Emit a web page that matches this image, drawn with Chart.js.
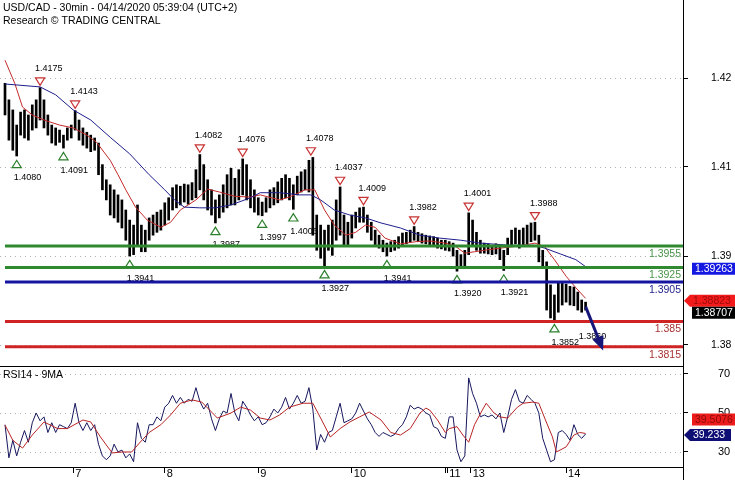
<!DOCTYPE html>
<html>
<head>
<meta charset="utf-8">
<script src="https://cdn.jsdelivr.net/npm/chart.js@4.4.1/dist/chart.umd.min.js"></script>
<style>
  html, body { margin: 0; padding: 0; background: #fff; }
  #wrap { position: relative; width: 735px; height: 480px; overflow: hidden; }
  #price { position: absolute; left: 0; top: 0; }
  #rsi { position: absolute; left: 0; top: 366px; }
</style>
</head>
<body>
<div id="wrap">
  <canvas id="price" width="735" height="366"></canvas>
  <canvas id="rsi" width="735" height="114"></canvas>
</div>
<script>
const FONT = '"Liberation Sans", Arial, Helvetica, sans-serif';

// x is counted in 30 minute slots, first bar = slot 0
const X_MIN = -2.57, X_MAX = 348;
const PRICE_MIN = 1.37883, PRICE_MAX = 1.42967;
const RSI_MIN = 22.3, RSI_MAX = 74.1;

const titleLines = ['USD/CAD - 30min - 04/14/2020 05:39:04 (UTC+2)', 'Research \u00A9 TRADING CENTRAL'];
const rsiTitle = 'RSI14 - 9MA';

// day ticks (slot) and their labels
const dayTickVals = [35, 82, 130, 178, 226, 227, 239, 288];
const dayTickLabels = ['7', '8', '9', '10', '', '11', '13', '14'];

// price axis ticks as printed on the original
const priceTickVals = [1.4188, 1.4065, 1.3941, 1.3818];
const priceTickLabels = ['1.42', '1.41', '1.39', '1.38'];
const rsiTickVals = [70, 50, 30];

// hourly bars, bar k sits on slot 2k
const barHigh = [
  1.4181, 1.4158, 1.4144, 1.4123, 1.4141, 1.4144, 1.4137, 1.4151, 1.4158, 1.4175,
  1.4158, 1.4137, 1.4123, 1.4119, 1.4116, 1.4109, 1.4119, 1.4123, 1.4143, 1.4130,
  1.4119, 1.4113, 1.4109, 1.4105, 1.4098, 1.4068, 1.4047, 1.4040, 1.4033, 1.4026,
  1.4019, 1.4005, 1.3991, 1.3984, 1.4012, 1.3984, 1.3977, 1.3994, 1.3998, 1.4002,
  1.4005, 1.4015, 1.4022, 1.4036, 1.4040, 1.4038, 1.4041, 1.4040, 1.4043, 1.4061,
  1.4082, 1.4068, 1.4047, 1.4033, 1.4019, 1.4026, 1.4040, 1.4054, 1.4063, 1.4049,
  1.4061, 1.4076, 1.4068, 1.4047, 1.4033, 1.4022, 1.4016, 1.4022, 1.4033, 1.4036,
  1.4044, 1.4049, 1.4054, 1.4049, 1.4040, 1.4052, 1.4058, 1.4061, 1.4074, 1.4078,
  1.3998, 1.3984, 1.3977, 1.3984, 1.3991, 1.4019, 1.4037, 1.3998, 1.3988, 1.3998,
  1.4002, 1.4008, 1.4009, 1.3998, 1.3988, 1.3977, 1.3970, 1.3963, 1.3959, 1.3961,
  1.3963, 1.3968, 1.3973, 1.3974, 1.3977, 1.3982, 1.3974, 1.3972, 1.3970, 1.3969,
  1.3968, 1.3966, 1.3963, 1.3963, 1.3961, 1.3959, 1.3949, 1.3943, 1.3949, 1.4001,
  1.3991, 1.3974, 1.3963, 1.3959, 1.3958, 1.3956, 1.3958, 1.3955, 1.3949, 1.3966,
  1.3977, 1.3980, 1.3977, 1.3980, 1.3984, 1.3987, 1.3988, 1.3970, 1.3949, 1.3933,
  1.3901, 1.3887, 1.3904, 1.3904, 1.3902, 1.3899, 1.3898, 1.3891, 1.3880, 1.3877
];
const barLow = [
  1.4137, 1.4102, 1.4088, 1.4080, 1.4109, 1.4105, 1.4102, 1.4116, 1.4119, 1.4130,
  1.4119, 1.4109, 1.4098, 1.4095, 1.4099, 1.4091, 1.4102, 1.4105, 1.4116, 1.4102,
  1.4095, 1.4091, 1.4086, 1.4088, 1.4054, 1.4033, 1.4019, 1.3998, 1.3994, 1.3988,
  1.3980, 1.3963, 1.3941, 1.3943, 1.3956, 1.3947, 1.3947, 1.3963, 1.3970, 1.3974,
  1.3977, 1.3984, 1.3991, 1.4005, 1.4008, 1.4012, 1.4016, 1.4013, 1.4019, 1.4022,
  1.4033, 1.4019, 1.4005, 1.3998, 1.3987, 1.3994, 1.4002, 1.4008, 1.4012, 1.4012,
  1.4019, 1.4026, 1.4019, 1.4008, 1.4002, 1.3998, 1.3997, 1.4002, 1.4008, 1.4012,
  1.4015, 1.4019, 1.4022, 1.4019, 1.4006, 1.4026, 1.4030, 1.4033, 1.4030, 1.3970,
  1.3949, 1.3938, 1.3927, 1.3949, 1.3942, 1.3963, 1.3970, 1.3956, 1.3956, 1.3966,
  1.3980, 1.3988, 1.3988, 1.3974, 1.3963, 1.3956, 1.3952, 1.3947, 1.3941, 1.3947,
  1.3949, 1.3952, 1.3955, 1.3958, 1.3961, 1.3963, 1.3961, 1.3959, 1.3958, 1.3956,
  1.3954, 1.3952, 1.3951, 1.3949, 1.3948, 1.3941, 1.3920, 1.3924, 1.3927, 1.3943,
  1.3956, 1.3949, 1.3945, 1.3945, 1.3944, 1.3943, 1.3944, 1.3936, 1.3921, 1.3943,
  1.3955, 1.3958, 1.3952, 1.3955, 1.3958, 1.3961, 1.3963, 1.3933, 1.3924, 1.3866,
  1.3855, 1.3852, 1.3863, 1.3873, 1.3877, 1.3873, 1.3872, 1.3866, 1.3863, 1.3866
];
const lastClose = 1.38707;

// moving averages (red = fast, blue = slow)
const maRedSlot = [0, 5, 9, 14, 20, 28, 35, 42, 47, 54, 58, 62, 67, 73, 80, 85, 90, 98, 104, 110,
  118, 126, 131, 141, 146, 154, 159, 164, 169, 175, 180, 185, 190, 195, 203, 211, 218, 226, 231, 236,
  241, 246, 254, 264, 272, 277, 282, 288, 293, 298];
const maRedVal = [1.4213, 1.4181, 1.4148, 1.4137, 1.4130, 1.4123, 1.4119, 1.4109, 1.4099, 1.4074,
  1.4054, 1.4033, 1.4009, 1.3991, 1.3981, 1.3988, 1.4005, 1.4019, 1.4034, 1.4030,
  1.4024, 1.4023, 1.4026, 1.4019, 1.4023, 1.4033, 1.4033, 1.4005, 1.3984, 1.3970,
  1.3974, 1.3984, 1.3981, 1.3966, 1.3958, 1.3961, 1.3962, 1.3959, 1.3955, 1.3945,
  1.3947, 1.3949, 1.3952, 1.3955, 1.3959, 1.3954, 1.3936, 1.3913, 1.3897, 1.38823];
const maBlueSlot = [0, 18, 26, 35, 44, 54, 64, 74, 82, 87, 92, 100, 108, 116, 126, 131, 141, 151, 157, 162,
  169, 177, 185, 193, 203, 213, 223, 234, 244, 259, 272, 277, 285, 293, 298];
const maBlueVal = [1.4180, 1.4176, 1.4165, 1.4144, 1.4130, 1.4106, 1.4083, 1.4054, 1.4033, 1.4019,
  1.4009, 1.4008, 1.4008, 1.4012, 1.4022, 1.4029, 1.4029, 1.4026, 1.4026, 1.4019,
  1.4005, 1.3998, 1.3994, 1.3987, 1.3980, 1.3970, 1.3966, 1.3963, 1.3959, 1.3956,
  1.3956, 1.3952, 1.3944, 1.3936, 1.39263];

// support / resistance
const levelVals = [1.3955, 1.3925, 1.3905, 1.385, 1.3815];
const levelColors = ['#2f8a2f', '#2f8a2f', '#1414a0', '#d02424', '#d02424'];
const levelTextColors = ['#4a944a', '#4a944a', '#24248c', '#a83232', '#a83232'];

// swing highs / lows
const hiSlot = [18, 36, 100, 122, 157, 172, 184, 210, 238, 272];
const hiVal = [1.4175, 1.4143, 1.4082, 1.4076, 1.4078, 1.4037, 1.4009, 1.3982, 1.4001, 1.3988];
const loSlot = [6, 30, 64, 108, 132, 148, 164, 196, 232, 256, 282];
const loVal = [1.4080, 1.4091, 1.3941, 1.3987, 1.3997, 1.4006, 1.3927, 1.3941, 1.3920, 1.3921, 1.3852];
const lastLowSlot = 296, lastLowVal = 1.3860;

// forecast arrow
const fcSlot = [298, 307];
const fcVal = [1.38707, 1.3810];

// RSI, one value per hourly bar
const rsiVal = [
  44, 27, 36, 28, 35, 41, 35, 45, 50, 46, 48, 40, 45, 40, 44, 43, 42, 45, 55, 45,
  41, 45, 41, 44, 34, 28, 26, 28, 34, 30, 31, 27, 29, 25, 45, 37, 35, 44, 44, 48,
  46, 53, 55, 59, 55, 58, 55, 57, 56, 63, 56, 52, 55, 47, 41, 47, 51, 50, 60, 50,
  46, 56, 53, 49, 46, 48, 44, 45, 48, 52, 50, 53, 58, 52, 55, 59, 55, 56, 63, 52,
  31, 39, 35, 40, 41, 48, 55, 45, 46, 47, 50, 55, 51, 47, 44, 40, 38, 40, 39, 38,
  39, 42, 44, 48, 54, 52, 53, 52, 50, 49, 43, 42, 38, 37, 48, 48, 31, 25, 28, 68,
  60, 55, 48, 49, 48, 49, 47, 50, 40, 48, 57, 62, 56, 55, 59, 57, 55, 50, 37, 31,
  25, 26, 40, 41, 39, 36, 44, 39, 37, 39.233
];
const rsiMaSlot = [0, 4, 9, 14, 20, 27, 32, 40, 44, 49, 55, 60, 65, 69, 74, 80, 85, 90, 96, 101,
  106, 109, 116, 121, 126, 131, 136, 141, 146, 153, 158, 162, 167, 172, 177, 182, 187, 193, 198, 203,
  208, 213, 216, 218, 222, 226, 228, 232, 235, 238, 241, 245, 247, 251, 254, 258, 263, 266, 271, 274,
  277, 281, 283, 288, 292, 295, 298];
const rsiMaVal = [43.8, 36, 32, 38.7, 45.4, 42, 42, 46.4, 45.4, 37.7, 29.5, 30, 30, 34.6, 40, 44, 49, 55, 56.7, 55.6,
  50.5, 47.4, 50, 53, 51.5, 47.4, 46.4, 49, 53, 55, 55, 47.4, 37.7, 42, 45.4, 48, 50.5, 46.4, 40, 38.7,
  42, 50, 52.5, 51.5, 46.4, 40, 42, 43, 38.7, 35, 44, 51.5, 55, 50, 48, 47.4, 53, 55, 55.6, 55,
  47.4, 37.7, 30, 32.6, 38.7, 40, 39.5076];

function lineData(xs, ys) {
  return xs.map((x, i) => ({ x: x, y: ys[i] }));
}

function yAxisWidth(s) {
  s.width = 52;
  s.paddingTop = 0;
  s.paddingBottom = 0;
}

function dottedRows(ctx, a, scale, vals) {
  ctx.strokeStyle = '#b0b0b0';
  ctx.lineWidth = 1;
  ctx.setLineDash([1, 4]);
  vals.forEach(v => {
    const py = Math.round(scale.getPixelForValue(v)) + 0.5;
    ctx.beginPath();
    ctx.moveTo(a.left, py);
    ctx.lineTo(a.right, py);
    ctx.stroke();
  });
  ctx.setLineDash([]);
}

// value tag on the right axis, optional arrow tip on the left
function valueTag(ctx, text, yc, x0, x1, bg, fg, tip) {
  const h = 12;
  ctx.fillStyle = bg;
  ctx.beginPath();
  if (tip) {
    ctx.moveTo(tip, yc);
    ctx.lineTo(x0, yc - h / 2);
  } else {
    ctx.moveTo(x0, yc - h / 2);
  }
  ctx.lineTo(x1, yc - h / 2);
  ctx.lineTo(x1, yc + h / 2);
  ctx.lineTo(x0, yc + h / 2);
  ctx.closePath();
  ctx.fill();
  ctx.fillStyle = fg;
  ctx.font = '10.5px ' + FONT;
  ctx.textAlign = 'left';
  ctx.textBaseline = 'middle';
  ctx.fillText(text, x0 + 3, yc + 0.5);
}

const priceDecor = {
  id: 'priceDecor',
  beforeDatasetsDraw(chart) {
    const { ctx, chartArea: a, scales: { y } } = chart;
    ctx.save();
    dottedRows(ctx, a, y, priceTickVals);
    ctx.fillStyle = '#000';
    ctx.font = '10.5px ' + FONT;
    ctx.textAlign = 'left';
    ctx.textBaseline = 'alphabetic';
    ctx.fillText(titleLines[0], 3, 11);
    ctx.fillText(titleLines[1], 3, 24);
    ctx.restore();
  },
  afterDatasetsDraw(chart) {
    const { ctx, chartArea: a, scales: { x, y } } = chart;
    const px = v => x.getPixelForValue(v);
    const py = v => y.getPixelForValue(v);
    ctx.save();
    ctx.lineWidth = 1.2;
    ctx.font = '9px ' + FONT;
    ctx.textAlign = 'left';
    ctx.textBaseline = 'middle';

    // highs: red triangle pointing down, value above
    hiSlot.forEach((s, i) => {
      const cx = px(s), cy = py(hiVal[i]) - 6;
      ctx.beginPath();
      ctx.moveTo(cx - 4.6, cy - 3.7);
      ctx.lineTo(cx + 4.6, cy - 3.7);
      ctx.lineTo(cx, cy + 3.7);
      ctx.closePath();
      ctx.fillStyle = '#fff';
      ctx.fill();
      ctx.strokeStyle = '#c83232';
      ctx.stroke();
      ctx.fillStyle = '#000';
      ctx.fillText(hiVal[i].toFixed(4), cx - 5, cy - 13);
    });

    // lows: green triangle pointing up, value below
    loSlot.forEach((s, i) => {
      const cx = px(s), cy = py(loVal[i]) + 8;
      ctx.beginPath();
      ctx.moveTo(cx - 4.6, cy + 3.7);
      ctx.lineTo(cx + 4.6, cy + 3.7);
      ctx.lineTo(cx, cy - 3.7);
      ctx.closePath();
      ctx.fillStyle = '#fff';
      ctx.fill();
      ctx.strokeStyle = '#2a7f2a';
      ctx.stroke();
      ctx.fillStyle = '#000';
      ctx.fillText(loVal[i].toFixed(4), cx - 3, cy + 14);
    });
    ctx.fillText(lastLowVal.toFixed(4), px(lastLowSlot) - 3, py(lastLowVal) + 22);

    // levels
    ctx.font = '10.5px ' + FONT;
    ctx.textAlign = 'right';
    levelVals.forEach((v, i) => {
      const ly = py(v);
      ctx.strokeStyle = levelColors[i];
      ctx.lineWidth = 3;
      ctx.beginPath();
      ctx.moveTo(px(0), ly);
      ctx.lineTo(a.right, ly);
      ctx.stroke();
      ctx.fillStyle = levelTextColors[i];
      ctx.fillText(String(v), a.right - 2, ly + 8);
    });

    // forecast arrow
    const x0 = px(fcSlot[0]), y0 = py(fcVal[0]);
    const x1 = px(fcSlot[1]), y1 = py(fcVal[1]);
    const ang = Math.atan2(y1 - y0, x1 - x0);
    const head = 14, half = 6;
    ctx.strokeStyle = '#17177a';
    ctx.fillStyle = '#17177a';
    ctx.lineWidth = 3;
    ctx.beginPath();
    ctx.moveTo(x0, y0);
    ctx.lineTo(x1 - Math.cos(ang) * head * 0.7, y1 - Math.sin(ang) * head * 0.7);
    ctx.stroke();
    const bx = x1 - Math.cos(ang) * head, by = y1 - Math.sin(ang) * head;
    ctx.beginPath();
    ctx.moveTo(x1, y1);
    ctx.lineTo(bx + Math.sin(ang) * half, by - Math.cos(ang) * half);
    ctx.lineTo(bx - Math.sin(ang) * half, by + Math.cos(ang) * half);
    ctx.closePath();
    ctx.fill();
    ctx.restore();
  },
  afterDraw(chart) {
    const { ctx, scales: { y } } = chart;
    const py = v => y.getPixelForValue(v);
    ctx.save();
    const blueLast = maBlueVal[maBlueVal.length - 1];
    const redLast = maRedVal[maRedVal.length - 1];
    valueTag(ctx, blueLast.toFixed(5), py(blueLast) + 2, 692, 735, '#1418e0', '#fff');
    valueTag(ctx, redLast.toFixed(5), py(redLast) + 2.5, 690, 735, '#f21a1a', '#9c0c0c', 684);
    valueTag(ctx, lastClose.toFixed(5), py(lastClose) + 6, 692, 735, '#000', '#fff');
    ctx.restore();
  }
};

const rsiDecor = {
  id: 'rsiDecor',
  beforeDatasetsDraw(chart) {
    const { ctx, chartArea: a, scales: { y } } = chart;
    ctx.save();
    dottedRows(ctx, a, y, rsiTickVals);
    ctx.strokeStyle = '#000';
    ctx.lineWidth = 1;
    ctx.beginPath();
    ctx.moveTo(a.left, 0.5);
    ctx.lineTo(a.right, 0.5);
    ctx.stroke();
    ctx.fillStyle = '#000';
    ctx.font = '10.5px ' + FONT;
    ctx.textAlign = 'left';
    ctx.textBaseline = 'alphabetic';
    ctx.fillText(rsiTitle, 3, 12);
    ctx.restore();
  },
  afterDraw(chart) {
    const { ctx, chartArea: a, scales: { y } } = chart;
    const py = v => y.getPixelForValue(v);
    ctx.save();
    ctx.strokeStyle = '#000';
    ctx.lineWidth = 1;
    ctx.beginPath();
    ctx.moveTo(Math.round(a.right) + 0.5, 0);
    ctx.lineTo(Math.round(a.right) + 0.5, chart.height);
    ctx.stroke();
    const maLast = rsiMaVal[rsiMaVal.length - 1];
    const rsiLast = rsiVal[rsiVal.length - 1];
    valueTag(ctx, maLast.toFixed(4), py(maLast) - 14, 692, 735, '#ec1c1c', '#8c0a0a');
    valueTag(ctx, String(rsiLast), py(rsiLast) + 1, 690, 731, '#0e0e74', '#fff', 684);
    ctx.restore();
  }
};

const yGrid = { drawOnChartArea: false, drawTicks: true, tickLength: 5, tickColor: '#000' };
const axisBorder = { display: true, color: '#000', width: 1 };

new Chart(document.getElementById('price'), {
  type: 'bar',
  data: {
    datasets: [
      { type: 'line', data: lineData(maRedSlot, maRedVal), borderColor: '#c42a2a', borderWidth: 1, pointRadius: 0, order: 1 },
      { type: 'line', data: lineData(maBlueSlot, maBlueVal), borderColor: '#1e1e8c', borderWidth: 1, pointRadius: 0, order: 0 },
      { type: 'bar', data: barHigh.map((h, k) => ({ x: k * 2, y: [barLow[k], h] })), backgroundColor: '#000', barThickness: 2, order: 2 }
    ]
  },
  options: {
    responsive: false,
    animation: false,
    devicePixelRatio: 1,
    layout: { padding: 0, autoPadding: false },
    plugins: { legend: { display: false }, tooltip: { enabled: false } },
    scales: {
      x: { type: 'linear', min: X_MIN, max: X_MAX, offset: false, display: false },
      y: {
        type: 'linear', position: 'right', min: PRICE_MIN, max: PRICE_MAX,
        afterFit: yAxisWidth,
        afterBuildTicks: s => { s.ticks = priceTickVals.map(v => ({ value: v })); },
        ticks: { callback: (v, i) => priceTickLabels[i], color: '#000', font: { family: FONT, size: 10.5 }, padding: 23 },
        grid: yGrid,
        border: axisBorder
      }
    }
  },
  plugins: [priceDecor]
});

new Chart(document.getElementById('rsi'), {
  type: 'line',
  data: {
    datasets: [
      { data: rsiVal.map((v, k) => ({ x: k * 2, y: v })), borderColor: '#16165e', borderWidth: 1, pointRadius: 0, order: 1 },
      { data: lineData(rsiMaSlot, rsiMaVal), borderColor: '#b82424', borderWidth: 1, pointRadius: 0, order: 0 }
    ]
  },
  options: {
    responsive: false,
    animation: false,
    devicePixelRatio: 1,
    layout: { padding: 0, autoPadding: false },
    plugins: { legend: { display: false }, tooltip: { enabled: false } },
    scales: {
      x: {
        type: 'linear', position: 'bottom', min: X_MIN, max: X_MAX, offset: false,
        afterFit: s => { s.height = 13; s.paddingLeft = 0; s.paddingRight = 0; },
        afterBuildTicks: s => { s.ticks = dayTickVals.map(v => ({ value: v })); },
        ticks: {
          autoSkip: false, maxRotation: 0, minRotation: 0, align: 'start', labelOffset: 2, padding: -6,
          callback: (v, i) => dayTickLabels[i], color: '#000', font: { family: FONT, size: 11 }
        },
        grid: { drawOnChartArea: false, drawTicks: true, tickLength: 6, tickColor: '#000' },
        border: axisBorder
      },
      y: {
        type: 'linear', position: 'right', min: RSI_MIN, max: RSI_MAX,
        afterFit: yAxisWidth,
        afterBuildTicks: s => { s.ticks = rsiTickVals.map(v => ({ value: v })); },
        ticks: { callback: v => String(v), color: '#000', font: { family: FONT, size: 11 }, padding: 30 },
        grid: yGrid,
        border: axisBorder
      }
    }
  },
  plugins: [rsiDecor]
});
</script>
</body>
</html>
